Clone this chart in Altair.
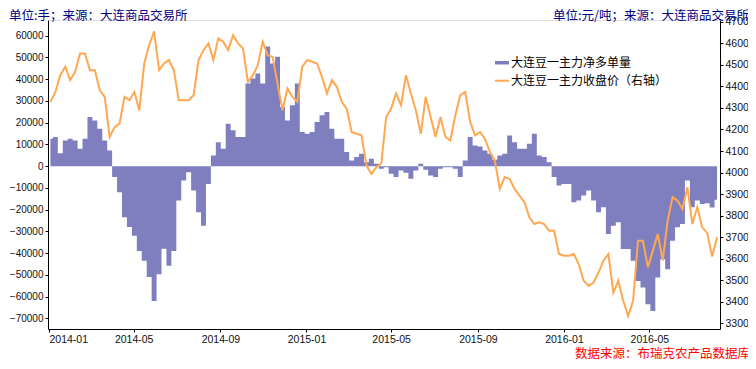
import altair as alt
import pandas as pd

# 大连豆一主力净多单量 (手), weekly readings
net_long = [
    12600, 13400, 6000, 11800, 12600, 11800, 8000, 12600, 22600, 21000,
    17200, 11800, 7200, -5000, -12000, -23500, -28000, -32000, -39000, -43500,
    -51000, -62000, -49700, -38000, -45800, -39000, -15800, -6600, -2800, -11200,
    -21200, -27400, -8200, 4900, 11000, 8000, 19500, 16500, 13400, 13400,
    38000, 40300, 42600, 38000, 55000, 47200, 50300, 27200, 21000, 28000,
    38000, 15700, 14900, 15700, 20300, 23400, 24900, 17200, 12600, 12600,
    6500, 2600, 4200, 5700, 1800, 3400, 1100, -1200, -500, -3500,
    -5000, -2000, -3000, -5800, -2000, 1100, -1700, -4300, -5000, -1200,
    -500, -500, -1200, -5000, 2600, 13400, 9500, 9000, 7200, 5700,
    2900, 4900, 5700, 14100, 11000, 8000, 8000, 10300, 14900, 4900,
    4200, 1800, -5000, -8900, -8200, -8200, -16600, -15800, -13500, -11200,
    -15800, -21200, -18900, -31200, -27400, -25800, -38100, -38100, -43500, -52800,
    -55800, -63500, -66600, -51200, -42800, -47400, -34300, -28100, -26600, -6600,
    -18900, -15800, -17400, -17000, -19000, -15500,
]

# 大连豆一主力收盘价 (元/吨), weekly readings
close_price = [
    4328, 4374, 4452, 4491, 4429, 4467, 4553, 4553, 4475, 4475,
    4382, 4351, 4165, 4211, 4227, 4351, 4336, 4374, 4289, 4506,
    4592, 4655, 4475, 4506, 4522, 4475, 4336, 4336, 4336, 4359,
    4522, 4568, 4599, 4522, 4623, 4607, 4568, 4638, 4599, 4576,
    4421, 4452, 4498, 4607, 4545, 4537, 4413, 4289, 4390, 4351,
    4328, 4491, 4522, 4514, 4506, 4444, 4367, 4429, 4398, 4328,
    4297, 4188, 4180, 4173, 4033, 3994, 4025, 4041, 4258, 4297,
    4367, 4312, 4452, 4367, 4289, 4180, 4351, 4258, 4165, 4258,
    4165, 4149, 4266, 4359, 4374, 4235, 4173, 4188, 4157, 4095,
    4056, 3924, 3979, 3971, 3924, 3893, 3862, 3792, 3761, 3769,
    3761, 3730, 3730, 3622, 3614, 3614, 3622, 3575, 3498, 3474,
    3490, 3536, 3591, 3622, 3443, 3498, 3405, 3335, 3405, 3684,
    3684, 3560, 3637, 3715, 3591, 3777, 3886, 3870, 3831, 3932,
    3761, 3839, 3746, 3720, 3610, 3700,
]

dates = pd.date_range("2014-01-03", periods=len(net_long), freq="7D")
df = pd.DataFrame({
    "date": dates.strftime("%Y-%m-%d"),
    "net": net_long,
    "price": close_price,
})

tick_months = [(2014, 1), (2014, 5), (2014, 9), (2015, 1), (2015, 5),
               (2015, 9), (2016, 1), (2016, 5)]
left_ticks = list(range(-70000, 60001, 10000))
right_ticks = list(range(3300, 4701, 100))

BLUE = "#7f7fc0"
ORANGE = "#ffa851"
AXFONT = "Liberation Sans"
CJK = "Noto Sans CJK SC"
AXFS = 10.5

x_enc = alt.X(
    "date:T",
    scale=alt.Scale(
        type="utc",
        domain=[alt.DateTime(year=2013, month=12, date=30, hours=14, utc=True),
                alt.DateTime(year=2016, month=8, date=9, hours=5, utc=True)],
    ),
    axis=alt.Axis(
        values=[alt.DateTime(year=y, month=m, date=1, utc=True) for y, m in tick_months],
        labelExpr="utcFormat(datum.value, '%Y-%m')", title=None, grid=False,
        domainColor="#000", tickColor="#000", tickSize=3, labelPadding=2,
        labelFont=AXFONT, labelFontSize=AXFS, labelColor="#111",
    ),
)

base = alt.Chart(df)

area = base.mark_area(interpolate="step", color=BLUE, clip=True).encode(
    x=x_enc,
    y=alt.Y(
        "net:Q",
        scale=alt.Scale(domain=[-74900, 67240], nice=False, zero=False),
        axis=alt.Axis(orient="left", values=left_ticks, format="d", title=None,
                      grid=False, domainColor="#000", tickColor="#000",
                      tickSize=3, labelPadding=2, labelFont=AXFONT,
                      labelFontSize=10, labelColor="#111"),
    ),
    y2=alt.datum(0),
)

line = base.mark_line(color=ORANGE, strokeWidth=2, clip=True).encode(
    x=x_enc,
    y=alt.Y(
        "price:Q",
        scale=alt.Scale(domain=[3274, 4708], nice=False, zero=False),
        axis=alt.Axis(orient="right", values=right_ticks, format="d", title=None,
                      grid=False, domainColor="#000", tickColor="#000",
                      tickSize=3, labelPadding=2, labelFont=AXFONT,
                      labelFontSize=AXFS, labelColor="#111"),
    ),
)

legend_labels = ["大连豆一主力净多单量", "大连豆一主力收盘价（右轴）"]

leg_rect = alt.Chart(pd.DataFrame({"k": [0]})).mark_rect(color=BLUE).encode(
    x=alt.value(447), x2=alt.value(461), y=alt.value(41), y2=alt.value(44.5)
)
leg_rule = alt.Chart(pd.DataFrame({"k": [0]})).mark_rule(color=ORANGE, strokeWidth=2).encode(
    x=alt.value(447), x2=alt.value(461), y=alt.value(60.7)
)
leg_t1 = alt.Chart(pd.DataFrame({"t": [legend_labels[0]]})).mark_text(
    align="left", baseline="middle", font=CJK, fontSize=12, color="#000"
).encode(text="t:N", x=alt.value(463), y=alt.value(42.7))
leg_t2 = alt.Chart(pd.DataFrame({"t": [legend_labels[1]]})).mark_text(
    align="left", baseline="middle", font=CJK, fontSize=12, color="#000"
).encode(text="t:N", x=alt.value(463), y=alt.value(60.7))

title_left = alt.Chart(pd.DataFrame({"t": ["单位:手；来源：大连商品交易所"]})).mark_text(
    align="left", baseline="middle", font=CJK, fontSize=12.5, color="#000080"
).encode(text="t:N", x=alt.value(-39), y=alt.value(-4))
title_right = alt.Chart(pd.DataFrame({"t": ["单位:元/吨；来源：大连商品交易所"]})).mark_text(
    align="right", baseline="middle", font=CJK, fontSize=12.5, color="#000080"
).encode(text="t:N", x=alt.value(701), y=alt.value(-4))
source = alt.Chart(pd.DataFrame({"t": ["数据来源：布瑞克农产品数据库"]})).mark_text(
    align="right", baseline="middle", font=CJK, fontSize=12.5, color="#ff0000"
).encode(text="t:N", x=alt.value(702), y=alt.value(334))

chart = alt.layer(
    area, line, leg_rect, leg_rule, leg_t1, leg_t2, title_left, title_right, source
).resolve_scale(y="independent").properties(
    width=672,
    height=309,
    autosize=alt.AutoSizeParams(type="none"),
    padding={"left": 40, "top": 12, "right": 28, "bottom": 32},
).configure_view(stroke=None).configure(background="white")

chart.save("out.html", embed_options={"renderer": "svg", "actions": False})
